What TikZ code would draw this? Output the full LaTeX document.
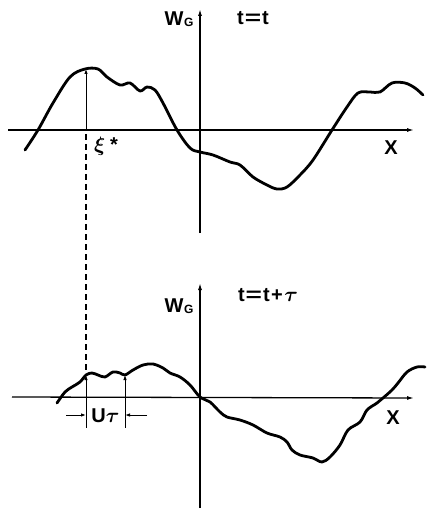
\documentclass[tikz,border=0pt]{standalone}
\usepackage{amsmath}
\usepackage{fontspec}
\setmainfont{Liberation Sans}
\usetikzlibrary{arrows.meta}
\newcommand{\weq}{\hspace{1pt}\scalebox{1.4}[1]{=}\hspace{1pt}}
\newcommand{\wgsym}{W\hspace{0.5pt}\raisebox{-1.5pt}{\fontsize{12}{13}\selectfont G}}
\begin{document}
\begin{tikzpicture}[x=1pt,y=-1pt,
  axis/.style={line width=1.3pt,-{Latex[length=7pt,width=4pt]}},
  curve/.style={line width=2.8pt,line join=round,line cap=round},
  thin/.style={line width=1pt},
  tip/.style={line width=1pt,-{Latex[length=5pt,width=3.5pt]}},
  dashline/.style={line width=1.4pt,dash pattern=on 6pt off 4pt},
  lbl/.style={font=\fontsize{20}{22}\selectfont\bfseries,inner sep=0pt}]
\useasboundingbox (0,0) rectangle (426,510);
% ---- top panel ----
\coordinate (tyb) at (200,233);
\coordinate (tyt) at (200,9);
\coordinate (txl) at (8,130);
\coordinate (txr) at (414,130);
\draw[axis] (tyb) -- (tyt);
\draw[axis] (txl) -- (txr);
\node[lbl] (wg1) at (179,19) {\wgsym};
\node[lbl] (t1) at (253,18) {t\weq t};
\node[lbl] (x1) at (391,148) {X};
\node[lbl] (xi) at (106,146) {$\boldsymbol{\xi}$\hspace{5pt}*};
\draw[curve] plot[smooth,tension=0.55] coordinates {
 (25,150) (38,130) (53,103) (70,77) (85,69) (98,69) (107,77) (120,85) (130,83)
 (140,91) (147,87) (155,90) (163,103) (177,130) (190,148) (200,152) (213,155)
 (230,162) (240,165) (253,177) (267,185) (277,189) (287,187) (300,175) (313,160)
 (332,130) (347,107) (358,93) (370,92) (380,92) (392,83) (405,83) (415,88) (423,95)};
\coordinate (pk0) at (86,130);
\coordinate (pk1) at (86,69);
\draw[tip] (pk0) -- (pk1);
% dashed line
\coordinate (d0) at (86,134);
\coordinate (d1) at (86,372);
\draw[dashline] (d0) -- (d1);
% ---- bottom panel ----
\coordinate (byb) at (200,508);
\coordinate (byt) at (200,283);
\coordinate (bxl) at (12,397);
\coordinate (bxr) at (414,398);
\draw[axis] (byb) -- (byt);
\draw[axis] (bxl) -- (bxr);
\node[lbl] (wg2) at (179,306) {\wgsym};
\node[lbl] (t2) at (268,295) {t\weq t\hspace{1.5pt}+\hspace{1.5pt}$\boldsymbol{\tau}$};
\node[lbl] (x2) at (393,418) {X};
\draw[curve] plot[smooth,tension=0.55] coordinates {
 (57,403) (65,392) (72,387) (80,382) (86,375) (92,373) (98,375) (105,377)
 (113,372) (120,373) (125,375) (133,370) (143,365) (153,364) (163,368) (170,373)
 (180,377) (190,385) (200,397) (210,402) (220,412) (227,417) (240,420) (253,425)
 (267,433) (280,437) (287,442) (292,450) (300,455) (313,458) (322,462) (330,457)
 (340,445) (348,430) (360,422) (367,410) (377,403) (383,398) (392,390) (398,383)
 (407,372) (417,367) (425,367)};
\coordinate (a0) at (86,397);
\coordinate (a1) at (86,375);
\coordinate (b0) at (125,397);
\coordinate (b1) at (125,375);
\draw[tip] (a0) -- (a1);
\draw[tip] (b0) -- (b1);
\coordinate (ta) at (86,428);
\coordinate (tb) at (125,428);
\draw[thin] (a0) -- (ta);
\draw[thin] (b0) -- (tb);
\coordinate (la) at (66,415);
\coordinate (lae) at (86,415);
\coordinate (lb) at (147,415);
\coordinate (lbe) at (125,415);
\draw[tip] (la) -- (lae);
\draw[tip] (lb) -- (lbe);
\node[lbl] (ut) at (105.5,416) {U$\boldsymbol{\tau}$};
\end{tikzpicture}
\end{document}
